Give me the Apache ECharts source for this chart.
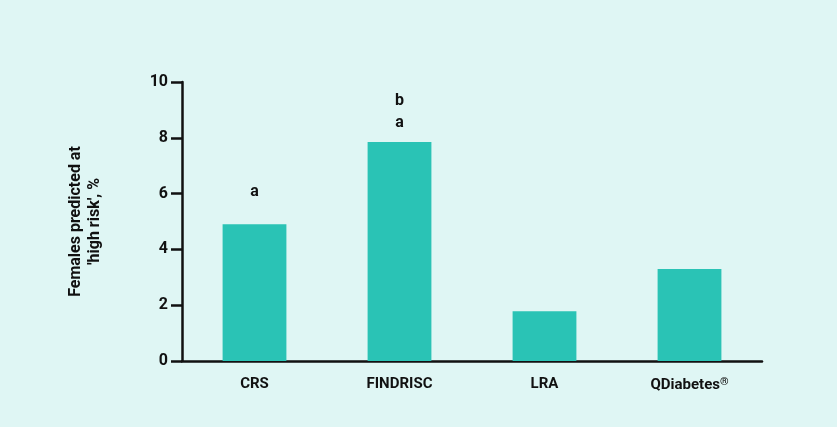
<!DOCTYPE html>
<html>
<head>
<meta charset="utf-8">
<script src="https://cdn.jsdelivr.net/npm/echarts@6/dist/echarts.min.js"></script>
<style>
  html, body { margin: 0; padding: 0; background: #dff6f4; }
  #chart { width: 837px; height: 427px; }
</style>
</head>
<body>
<div id="chart"></div>
<script>
// data
const categories = ['CRS', 'FINDRISC', 'LRA', 'QDiabetes®'];
const femalesHighRisk = [4.9, 7.85, 1.78, 3.3];
const annotations = ['a', 'b\na', '', ''];
const annotationGap = [21, 8, 0, 0];

const yTicks = [0, 2, 4, 6, 8, 10];

let chart = echarts.init(document.getElementById('chart'));

let option = {
  backgroundColor: '#dff6f4',
  textStyle: { fontFamily: 'Roboto' },
  grid: { left: 182, right: 75, top: 82, bottom: 66 },
  xAxis: {
    type: 'category',
    data: categories,
    axisLine: { lineStyle: { color: '#111', width: 2.5 } },
    axisTick: { show: false },
    axisLabel: {
      interval: 0,
      color: '#111', fontWeight: 'bold', fontSize: 15, margin: 16,
      // ® as small superscript
      formatter: function (v) {
        return v.replace('®', '{sup|®}');
      },
      rich: {
        sup: { fontSize: 11, fontWeight: 'bold', color: '#111', verticalAlign: 'top', padding: [0, 0, 5, 0] }
      }
    }
  },
  yAxis: {
    type: 'value',
    min: yTicks[0],
    max: yTicks[yTicks.length - 1],
    interval: 2,
    name: 'Females predicted at\n\'high risk\', %',
    nameLocation: 'middle',
    nameGap: 78,
    nameTextStyle: { color: '#111', fontWeight: 'bold', fontSize: 16, lineHeight: 19 },
    axisLine: { show: true, lineStyle: { color: '#111', width: 2.5 } },
    axisTick: { show: true, length: 11, lineStyle: { color: '#111', width: 2.5 } },
    axisLabel: { color: '#111', fontWeight: 'bold', fontSize: 16, margin: 14 },
    splitLine: { show: false }
  },
  series: [{
    type: 'bar',
    barWidth: '44%',
    itemStyle: { color: '#2ac3b5' },
    data: femalesHighRisk.map((v, i) => ({
      value: v,
      label: {
        show: annotations[i] !== '',
        position: 'top',
        distance: annotationGap[i],
        formatter: annotations[i],
        color: '#111',
        fontWeight: 'bold',
        fontSize: 16,
        lineHeight: 22
      }
    }))
  }]
};

chart.setOption(option);
</script>
</body>
</html>
